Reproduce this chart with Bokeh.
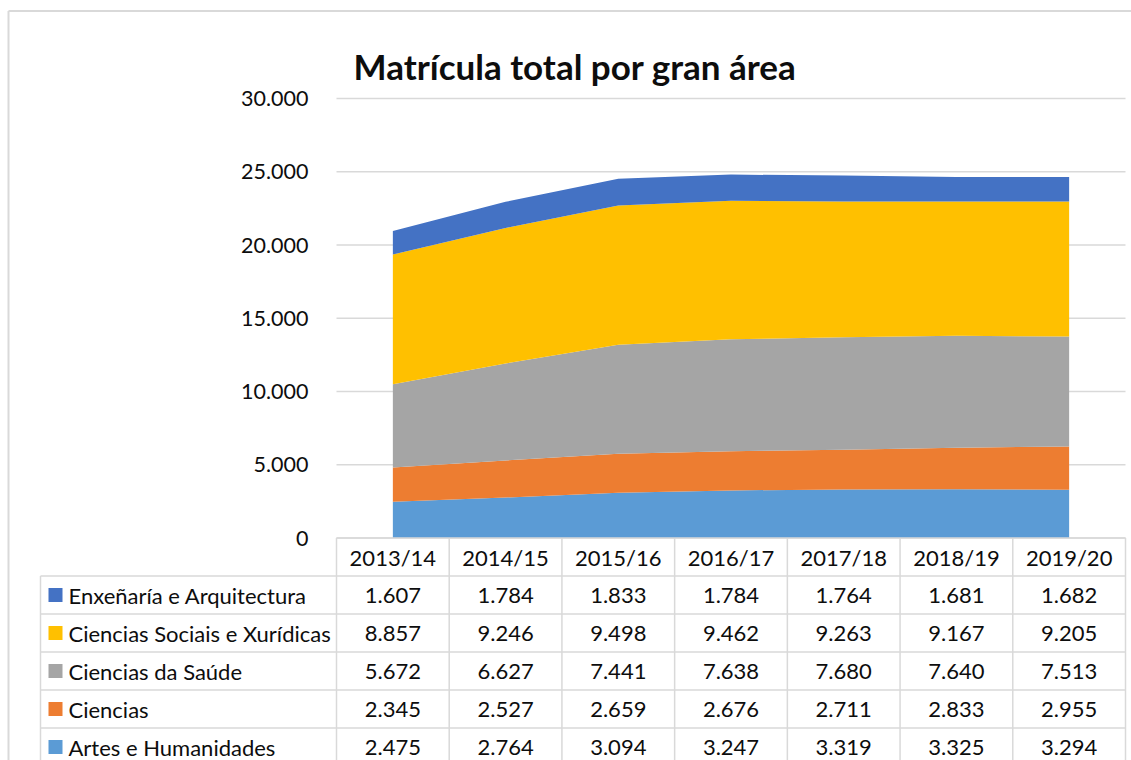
from bokeh.plotting import figure
from bokeh.models import Range1d, ColumnDataSource
from bokeh.core.properties import value
from bokeh.embed import file_html
from bokeh.resources import INLINE

# ---------------- data ----------------
title_text = "Matrícula total por gran área"
years = ["2013/14", "2014/15", "2015/16", "2016/17", "2017/18", "2018/19", "2019/20"]
artes = [2475, 2764, 3094, 3247, 3319, 3325, 3294]
ciencias = [2345, 2527, 2659, 2676, 2711, 2833, 2955]
saude = [5672, 6627, 7441, 7638, 7680, 7640, 7513]
sociais = [8857, 9246, 9498, 9462, 9263, 9167, 9205]
enxenaria = [1607, 1784, 1833, 1784, 1764, 1681, 1682]
series_names = ["Artes e Humanidades", "Ciencias", "Ciencias da Saúde",
                "Ciencias Sociais e Xurídicas", "Enxeñaría e Arquitectura"]
series_colors = ["#5B9BD5", "#ED7D31", "#A5A5A5", "#FFC000", "#4472C4"]
y_ticks = [0, 5000, 10000, 15000, 20000, 25000, 30000]

series_values = [artes, ciencias, saude, sociais, enxenaria]

def fmt(v):
    return f"{v:,}".replace(",", ".")

# ---------------- geometry (figure pixels) ----------------
W, H = 1131, 760
COL_LEFT = 336.0
COL_RIGHT = 1125.0
COL_W = (COL_RIGHT - COL_LEFT) / len(years)
X_START = -0.5 - COL_LEFT / COL_W
X_TAB_END = len(years) - 0.5
X_END = X_TAB_END + (W - COL_RIGHT) / COL_W

Y0_PX = 537.5      # pixel row of value 0 (also table header top)
YTOP_PX = 98.0     # pixel row of the top tick
PPU = (Y0_PX - YTOP_PX) / y_ticks[-1]
ROW_H = 38.0

def fx(px):
    return X_START + px / COL_W

def ft(py):
    return (Y0_PX - py) / ROW_H

FONT = value("Lato")
TXT = "#0d0d0d"
LINE = "#d9d9d9"
FS = "22px"

p = figure(width=W, height=H, output_backend="svg", toolbar_location=None,
           x_range=Range1d(X_START, X_END),
           y_range=Range1d(-(H - Y0_PX) / PPU, y_ticks[-1] + YTOP_PX / PPU),
           x_axis_location=None, y_axis_location=None, min_border=0)
p.extra_y_ranges = {"tbl": Range1d(ft(H), ft(0))}
p.grid.visible = False
p.outline_line_color = None
p.background_fill_color = "white"

# outer chart border (top & left)
p.segment(x0=[fx(8), fx(8)], y0=[ft(10.5), ft(10.5)], x1=[fx(W), fx(8)], y1=[ft(10.5), ft(H)],
          line_color=LINE, line_width=2, y_range_name="tbl")

# title
p.text(x=[fx(574.5)], y=[ft(65)], text=[title_text], y_range_name="tbl",
       text_font=FONT, text_font_style="bold", text_font_size="35px",
       text_align="center", text_baseline="alphabetic", text_color=TXT)

# gridlines
p.segment(x0=[-0.5] * len(y_ticks), x1=[X_TAB_END] * len(y_ticks), y0=y_ticks, y1=y_ticks,
          line_color=LINE, line_width=1.5)

# y tick labels
p.text(x=[-0.5] * len(y_ticks), y=y_ticks, text=[fmt(v) for v in y_ticks],
       x_offset=-28, text_align="right", text_baseline="middle",
       text_font=FONT, text_font_size="21.5px", text_color=TXT)

# stacked areas
src = ColumnDataSource(dict(x=list(range(len(years))),
                            **{f"s{i}": vals for i, vals in enumerate(series_values)}))
p.varea_stack(stackers=[f"s{i}" for i in range(len(series_values))], x="x",
              color=series_colors, source=src)

# ---------------- data table ----------------
n = len(years)
rows = list(reversed(range(len(series_names))))  # top row = last series
x_leg = fx(40)
nrow = len(rows)
# horizontal lines
p.segment(x0=[-0.5], x1=[X_TAB_END], y0=[0], y1=[0], line_color=LINE, line_width=1.5, y_range_name="tbl")
p.segment(x0=[x_leg] * (nrow + 1), x1=[X_TAB_END] * (nrow + 1),
          y0=[-(k + 1) for k in range(nrow + 1)], y1=[-(k + 1) for k in range(nrow + 1)],
          line_color=LINE, line_width=1.5, y_range_name="tbl")
# vertical lines
p.segment(x0=[i - 0.5 for i in range(n + 1)], x1=[i - 0.5 for i in range(n + 1)],
          y0=[0] * (n + 1), y1=[-(nrow + 1)] * (n + 1),
          line_color=LINE, line_width=1.5, y_range_name="tbl")
p.segment(x0=[x_leg], x1=[x_leg], y0=[-1], y1=[-(nrow + 1)],
          line_color=LINE, line_width=1.5, y_range_name="tbl")

# header
p.text(x=list(range(n)), y=[-0.5] * n, text=years, y_range_name="tbl",
       text_align="center", text_baseline="middle",
       text_font=FONT, text_font_size=FS, text_color=TXT)

# cells, legend keys and labels
cx, cy, ct = [], [], []
kx, ky, kc, lt = [], [], [], []
for k, si in enumerate(rows):
    yc = -(k + 1.5)
    for i in range(n):
        cx.append(i); cy.append(yc); ct.append(fmt(series_values[si][i]))
    kx.append(fx(55)); ky.append(yc); kc.append(series_colors[si]); lt.append(series_names[si])

p.text(x=cx, y=cy, text=ct, y_range_name="tbl", text_align="center", text_baseline="middle",
       text_font=FONT, text_font_size=FS, text_color=TXT)
p.scatter(x=kx, y=ky, marker="square", size=14, fill_color=kc, line_color=None, y_range_name="tbl")
p.text(x=[fx(68)] * nrow, y=ky, text=lt, y_range_name="tbl", text_align="left", text_baseline="middle",
       text_font=FONT, text_font_size=FS, text_color=TXT)

open("out.html", "w").write(file_html(p, INLINE))
